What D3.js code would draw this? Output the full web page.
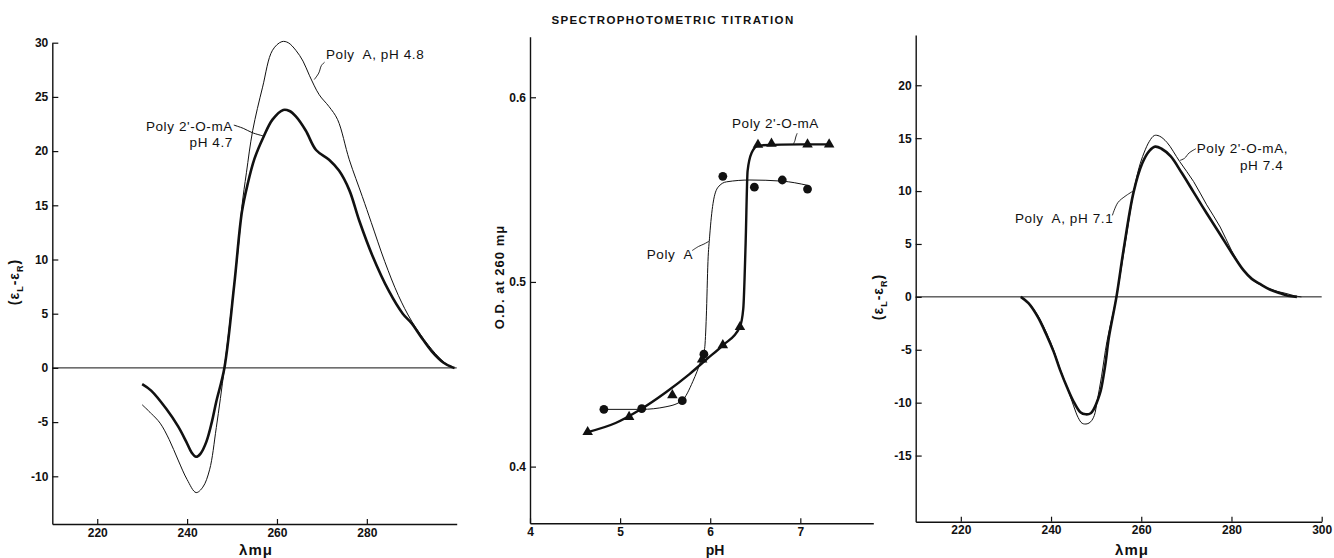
<!DOCTYPE html>
<html>
<head>
<meta charset="utf-8">
<script src="https://cdn.jsdelivr.net/npm/d3@7"></script>
<style>
body { margin: 0; background: #fff; }
svg text { font-family: "Liberation Sans", Arial, sans-serif; fill: #111; white-space: pre; }
</style>
</head>
<body>
<script>
// values: [wavelength (mμ), εL-εR]
var polyA48 = [[230,-3.4],[232,-4.2],[234,-5.1],[236,-6.6],[238,-8.5],[240,-10.3],[242,-11.5],[243.5,-11.0],
  [245,-9.4],[246.5,-5.5],[248.3,0],[250,6.0],[251.5,11.5],[252.2,14.9],[253.2,18.0],[254.6,21.9],[256.8,25.9],
  [259,29.3],[261.1,30.1],[262.5,30.0],[264.2,29.3],[265.8,28.3],[267.2,27.0],[269.4,25.2],[271.6,24.1],
  [273.5,22.9],[276.1,19.2],[279,15.8],[281,13.4],[284,9.8],[287,6.7],[290,4.3],[293.7,2.1],[296.7,0.7],
  [298.5,0.15],[299.5,0]];
var polyOMA47 = [[230,-1.5],[232,-2.1],[235.4,-3.8],[238,-5.4],[239.8,-6.8],[241,-7.8],[242,-8.2],[243,-7.9],
  [244.3,-6.8],[245.5,-5.0],[246.5,-3.1],[248.3,0],[250.5,7.7],[252.2,14.4],[253.5,17.0],[255,19.3],
  [257,21.3],[259,22.9],[261.4,23.8],[262.8,23.7],[264.2,23.2],[266.4,21.9],[268.7,20.1],[271.6,19.2],
  [273.8,18.2],[276.1,16.4],[278.3,13.6],[281.2,10.4],[284.9,7.1],[288,5.0],[290,4.1],[292,2.9],[294.5,1.5],
  [297,0.5],[298.8,0.1],[299.5,0]];

var polyA71 = [[233.3,0],[235,-0.55],[237,-1.7],[239,-3.4],[240.6,-5.05],[242,-6.8],[243.6,-8.6],[245,-10.3],
  [246,-11.4],[246.9,-11.95],[248,-12.0],[248.8,-11.8],[249.6,-11.2],[250.2,-9.9],[251.2,-7.5],[252.4,-4.2],
  [254.5,0],[256.5,5.2],[258.3,9.9],[259.5,12.2],[260.6,13.6],[261.8,14.7],[262.9,15.25],[264,15.2],
  [265.7,14.6],[268.5,12.8],[271.6,10.9],[274.5,8.7],[277.5,6.6],[280,4.4],[282.7,2.5],[285,1.5],[287.1,1.0],
  [289.5,0.6],[292.3,0.3],[294,0.1],[295.5,0]];
var polyOMA74 = [[233.3,0],[235,-0.6],[237,-1.85],[239,-3.6],[240.6,-5.2],[242,-6.9],[243.6,-8.6],[245,-9.9],
  [246.5,-10.9],[247.7,-11.1],[248.8,-11.0],[249.5,-10.6],[250.3,-9.8],[251,-8.9],[252,-6.5],[252.8,-3.9],
  [254.5,0],[256.1,4.5],[258.3,9.9],[260.2,12.6],[261.8,13.8],[263.1,14.2],[264.5,14.0],[266.5,13.3],
  [269,11.7],[271.6,9.9],[274.5,7.9],[277.5,5.9],[280,4.2],[282.7,2.5],[284.5,1.7],[286.4,1.2],[288.5,0.7],
  [290.8,0.34],[292.5,0.1],[294.5,0]];

// titration: [pH, O.D. at 260 mμ]
var titrPolyAPts = [[4.82,0.431],[5.24,0.4314],[5.69,0.4357],[5.93,0.4609],[6.14,0.5572],[6.49,0.5513],
  [6.80,0.5552],[7.08,0.5503]];
var titrPolyALine = [[4.82,0.431],[5.237,0.431],[5.509,0.4324],[5.688,0.4358],[5.808,0.4462],[5.901,0.458],
  [5.938,0.4639],[5.957,0.4815],[5.975,0.511],[5.994,0.5248],[6.031,0.5424],[6.087,0.5513],[6.18,0.5542],
  [6.441,0.5552],[6.795,0.5546],[7.082,0.5523]];
var titrOmaPts = [[4.64,0.4187],[5.10,0.4269],[5.58,0.4387],[5.91,0.458],[6.14,0.4658],[6.33,0.4756],
  [6.53,0.5743],[6.68,0.5749],[7.08,0.5745],[7.32,0.5745]];
var titrOmaLine = [[4.641,0.4187],[4.95,0.4236],[5.211,0.4305],[5.509,0.4403],[5.77,0.4501],[5.957,0.458],
  [6.143,0.4658],[6.329,0.4756],[6.367,0.4855],[6.393,0.5208],[6.415,0.5601],[6.46,0.5699],[6.534,0.5739],
  [7.0,0.5745],[7.336,0.5745]];

var wlTicksLeft = [220, 240, 260, 280];
var wlTicksRight = [220, 240, 260, 280, 300];
var cdTicksLeft = [-10, -5, 0, 5, 10, 15, 20, 25, 30];
var cdTicksRight = [-15, -10, -5, 0, 5, 10, 15, 20];
var phTicks = [4, 5, 6, 7];
var odTicks = [0.4, 0.5, 0.6];

var svg = d3.select("body").append("svg")
  .attr("width", 1334)
  .attr("height", 558);

function makePanel(xDomain, xRange, yDomain, yRange, xTicks, yTicks) {
  var x = d3.scaleLinear().domain(xDomain).range(xRange);
  var y = d3.scaleLinear().domain(yDomain).range(yRange);
  var g = svg.append("g");

  var xa = g.append("g")
    .attr("transform", "translate(0," + yRange[0] + ")")
    .call(d3.axisBottom(x).tickValues(xTicks).tickSize(-5).tickSizeOuter(0).tickPadding(4).tickFormat(String));
  var ya = g.append("g")
    .attr("transform", "translate(" + xRange[0] + ",0)")
    .call(d3.axisLeft(y).tickValues(yTicks).tickSize(-6).tickSizeOuter(0).tickPadding(4).tickFormat(String));

  [xa, ya].forEach(function(a) {
    a.attr("font-family", null).attr("font-size", null);
    a.select(".domain").attr("stroke", "#111").attr("stroke-width", 1.4);
    a.selectAll(".tick line").attr("stroke", "#111").attr("stroke-width", 1.2);
    a.selectAll(".tick text").attr("font-size", 12).attr("font-weight", "bold");
  });
  return { x: x, y: y, g: g };
}

function drawLine(p, data, width, curve) {
  var line = d3.line()
    .x(function(d) { return p.x(d[0]); })
    .y(function(d) { return p.y(d[1]); })
    .curve(curve || d3.curveCatmullRom.alpha(0.5));
  p.g.append("path")
    .datum(data)
    .attr("fill", "none")
    .attr("stroke", "#111")
    .attr("stroke-width", width)
    .attr("stroke-linejoin", "round")
    .attr("d", line);
}

function label(p, xv, yv, txt, anchor) {
  p.g.append("text")
    .attr("x", p.x(xv))
    .attr("y", p.y(yv))
    .attr("text-anchor", anchor || "start")
    .attr("font-size", 13.5)
    .attr("letter-spacing", 0.6)
    .text(txt);
}

function epsLabel(x, y) {
  var t = svg.append("text")
    .attr("transform", "translate(" + x + "," + y + ") rotate(-90)")
    .attr("text-anchor", "middle")
    .attr("font-size", 14)
    .attr("font-weight", "bold")
    .attr("letter-spacing", 1);
  t.append("tspan").text("(ε");
  t.append("tspan").attr("font-size", 9).attr("dy", 4).text("L");
  t.append("tspan").attr("dy", -4).text("-ε");
  t.append("tspan").attr("font-size", 9).attr("dy", 4).text("R");
  t.append("tspan").attr("dy", -4).text(")");
}

// left: CD spectra at acid pH
var left = makePanel([210, 300], [52.3, 456.7], [-14.4, 30], [524, 42.7], wlTicksLeft, cdTicksLeft);
drawLine(left, [[210, 0], [300, 0]], 1);
drawLine(left, polyA48, 1);
drawLine(left, polyOMA47, 2.6);
label(left, 270.9, 28.5, "Poly  A, pH 4.8");
label(left, 250.2, 21.9, "Poly 2'-O-mA", "end");
label(left, 250.2, 20.4, "pH 4.7", "end");
drawLine(left, [[270.6, 28.2], [269.9, 27.9], [269.3, 27.2], [268.3, 26.6]], 0.9);
drawLine(left, [[250.4, 22.4], [252.5, 22.1], [254.5, 21.7], [256.9, 21.4]], 1);
epsLabel(19, 282);
left.g.append("text").attr("x", 256).attr("y", 555).attr("text-anchor", "middle")
  .attr("font-size", 15).attr("font-weight", "bold").attr("letter-spacing", 1).text("λmμ");

// middle: spectrophotometric titration
var mid = makePanel([4, 7.81], [530, 873.3], [0.3693, 0.6328], [523.3, 36.7], phTicks, odTicks);
drawLine(mid, titrPolyALine, 1, d3.curveMonotoneX);
drawLine(mid, titrOmaLine, 2.4, d3.curveMonotoneX);
mid.g.selectAll(".dot")
  .data(titrPolyAPts)
  .enter().append("circle")
  .attr("cx", function(d) { return mid.x(d[0]); })
  .attr("cy", function(d) { return mid.y(d[1]); })
  .attr("r", 4.4)
  .attr("fill", "#111");
mid.g.selectAll(".tri")
  .data(titrOmaPts)
  .enter().append("path")
  .attr("d", d3.symbol().type(d3.symbolTriangle).size(48))
  .attr("transform", function(d) { return "translate(" + mid.x(d[0]) + "," + mid.y(d[1]) + ")"; })
  .attr("fill", "#111");
label(mid, 6.241, 0.5834, "Poly 2'-O-mA");
label(mid, 5.296, 0.5124, "Poly  A");
drawLine(mid, [[6.965, 0.5805], [6.95, 0.5785], [6.94, 0.5765], [6.925, 0.5748]], 0.9);
drawLine(mid, [[5.80, 0.517], [5.87, 0.5192], [5.93, 0.5205], [5.985, 0.522]], 0.9);
svg.append("text").attr("x", 673).attr("y", 24).attr("text-anchor", "middle")
  .attr("font-size", 11.5).attr("font-weight", "bold").attr("letter-spacing", 1.4)
  .text("SPECTROPHOTOMETRIC TITRATION");
svg.append("text")
  .attr("transform", "translate(504,277) rotate(-90)")
  .attr("text-anchor", "middle")
  .attr("font-size", 13).attr("font-weight", "bold").attr("letter-spacing", 1)
  .text("O.D. at 260 mμ");
mid.g.append("text").attr("x", 715).attr("y", 555).attr("text-anchor", "middle")
  .attr("font-size", 14).attr("font-weight", "bold").text("pH");

// right: CD spectra at neutral pH
var right = makePanel([210, 300], [915.7, 1321.7], [-21.25, 24.75], [521.7, 35], wlTicksRight, cdTicksRight);
drawLine(right, [[210, 0], [300, 0]], 1);
drawLine(right, polyA71, 1);
drawLine(right, polyOMA74, 2.6);
label(right, 272.3, 13.6, "Poly 2'-O-mA,");
label(right, 291.5, 12.0, "pH 7.4", "end");
label(right, 232.0, 7.0, "Poly  A, pH 7.1");
drawLine(right, [[272.1, 14.0], [270.6, 13.6], [269.6, 13.1], [268.6, 12.9]], 0.9);
drawLine(right, [[253.6, 7.7], [254.8, 8.9], [256.4, 9.5], [258.2, 10.0]], 0.9);
epsLabel(883, 297);
right.g.append("text").attr("x", 1132).attr("y", 555).attr("text-anchor", "middle")
  .attr("font-size", 15).attr("font-weight", "bold").attr("letter-spacing", 1).text("λmμ");
</script>
</body>
</html>
